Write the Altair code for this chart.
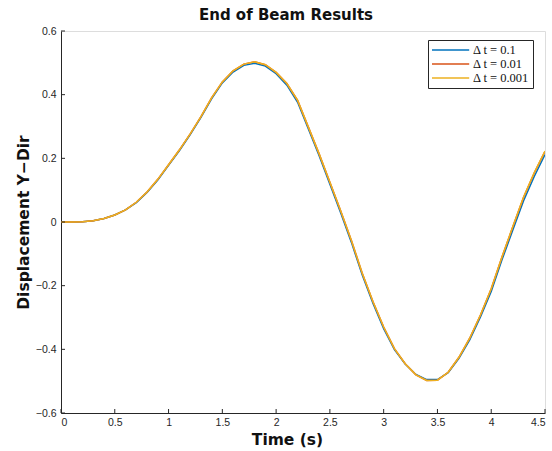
import altair as alt
import pandas as pd

t_vals = [round(i * 0.1, 1) for i in range(46)]

v_0001 = [0.000, 0.000, 0.001, 0.004, 0.011, 0.022, 0.038, 0.062, 0.094, 0.134,
          0.180, 0.226, 0.276, 0.330, 0.390, 0.440, 0.475, 0.496, 0.503, 0.494,
          0.470, 0.435, 0.382, 0.298, 0.214, 0.125, 0.035, -0.058, -0.160, -0.250,
          -0.330, -0.398, -0.445, -0.480, -0.498, -0.497, -0.472, -0.425, -0.365, -0.292,
          -0.210, -0.110, -0.015, 0.078, 0.155, 0.223]

v_001 = [0.000, 0.000, 0.001, 0.004, 0.011, 0.022, 0.038, 0.062, 0.094, 0.134,
         0.180, 0.226, 0.276, 0.330, 0.390, 0.440, 0.475, 0.496, 0.503, 0.494,
         0.470, 0.435, 0.382, 0.298, 0.214, 0.125, 0.035, -0.058, -0.160, -0.250,
         -0.330, -0.398, -0.445, -0.480, -0.498, -0.497, -0.472, -0.425, -0.365, -0.292,
         -0.210, -0.110, -0.016, 0.077, 0.154, 0.222]

v_01 = [0.000, 0.000, 0.001, 0.004, 0.011, 0.022, 0.038, 0.061, 0.093, 0.132,
        0.178, 0.224, 0.274, 0.328, 0.387, 0.437, 0.471, 0.492, 0.499, 0.490,
        0.466, 0.430, 0.376, 0.292, 0.208, 0.119, 0.029, -0.064, -0.166, -0.255,
        -0.335, -0.401, -0.446, -0.479, -0.495, -0.495, -0.473, -0.428, -0.370, -0.298,
        -0.218, -0.119, -0.026, 0.066, 0.143, 0.212]

series_names = ["Δ t = 0.1", "Δ t = 0.01", "Δ t = 0.001"]
series_colors = ["#0072BD", "#D95319", "#EDB120"]
x_ticks = [0, 0.5, 1, 1.5, 2, 2.5, 3, 3.5, 4, 4.5]
y_ticks = [-0.6, -0.4, -0.2, 0, 0.2, 0.4, 0.6]

rows = []
for name, vals in zip(series_names, [v_01, v_001, v_0001]):
    for t, v in zip(t_vals, vals):
        rows.append({"t": t, "v": v, "series": name, "order": series_names.index(name)})
df = pd.DataFrame(rows)

AX = "#262626"
W, H = 484, 382

xscale = alt.Scale(domain=[0, 4.5], nice=False, zero=False)
yscale = alt.Scale(domain=[-0.6, 0.6], nice=False, zero=False)

lines = alt.Chart(df).mark_line(strokeWidth=1.5, clip=True).encode(
    x=alt.X("t:Q", scale=xscale,
            axis=alt.Axis(values=x_ticks, format="~g", title="Time (s)", grid=False,
                          tickSize=0, labelPadding=4, domainColor=AX, labelColor=AX,
                          labelFont="Liberation Sans", labelFontSize=10.5,
                          titleFont="DejaVu Sans", titleFontSize=15.5, titleFontWeight="bold",
                          titleColor="#111111", titlePadding=5, titleX=226)),
    y=alt.Y("v:Q", scale=yscale,
            axis=alt.Axis(values=y_ticks, format="~g", title="Displacement Y−Dir", grid=False,
                          tickSize=0, labelPadding=5, domainColor=AX, labelColor=AX,
                          labelFont="Liberation Sans", labelFontSize=10.5,
                          titleFont="DejaVu Sans", titleFontSize=15.5, titleFontWeight="bold",
                          titleColor="#111111", titlePadding=4)),
    color=alt.Color("series:N",
                    scale=alt.Scale(domain=series_names, range=series_colors),
                    sort=series_names,
                    legend=alt.Legend(title=None, orient="none", legendX=367, legendY=9,
                                      symbolType="M-1,0H5.2", symbolSize=144,
                                      symbolStrokeWidth=1.5, labelFont="Liberation Serif",
                                      labelFontSize=12.5, labelColor="#111111",
                                      strokeColor=AX, fillColor="white", padding=3,
                                      rowPadding=0, labelOffset=28, offset=0)),
    order=alt.Order("order:Q"),
)

xt = pd.DataFrame({"x": x_ticks})
yt = pd.DataFrame({"y": y_ticks})

xtick_marks = alt.Chart(xt).mark_rule(color=AX, strokeWidth=1).encode(
    x=alt.X("x:Q", scale=xscale), y=alt.value(H), y2=alt.value(H - 4))
ytick_marks = alt.Chart(yt).mark_rule(color=AX, strokeWidth=1).encode(
    y=alt.Y("y:Q", scale=yscale), x=alt.value(0), x2=alt.value(4))

chart = alt.layer(lines, xtick_marks, ytick_marks).properties(
    width=W, height=H,
    title=alt.Title("End of Beam Results", font="DejaVu Sans", fontSize=15,
                    fontWeight="bold", color="#111111", anchor="middle", dx=-17, offset=3),
    autosize=alt.AutoSizeParams(type="none"),
    padding={"left": 61, "top": 31, "right": 7, "bottom": 38},
).configure_view(stroke=None).configure(background="white")

chart.save("out.html", embed_options={"renderer": "svg", "actions": False})
